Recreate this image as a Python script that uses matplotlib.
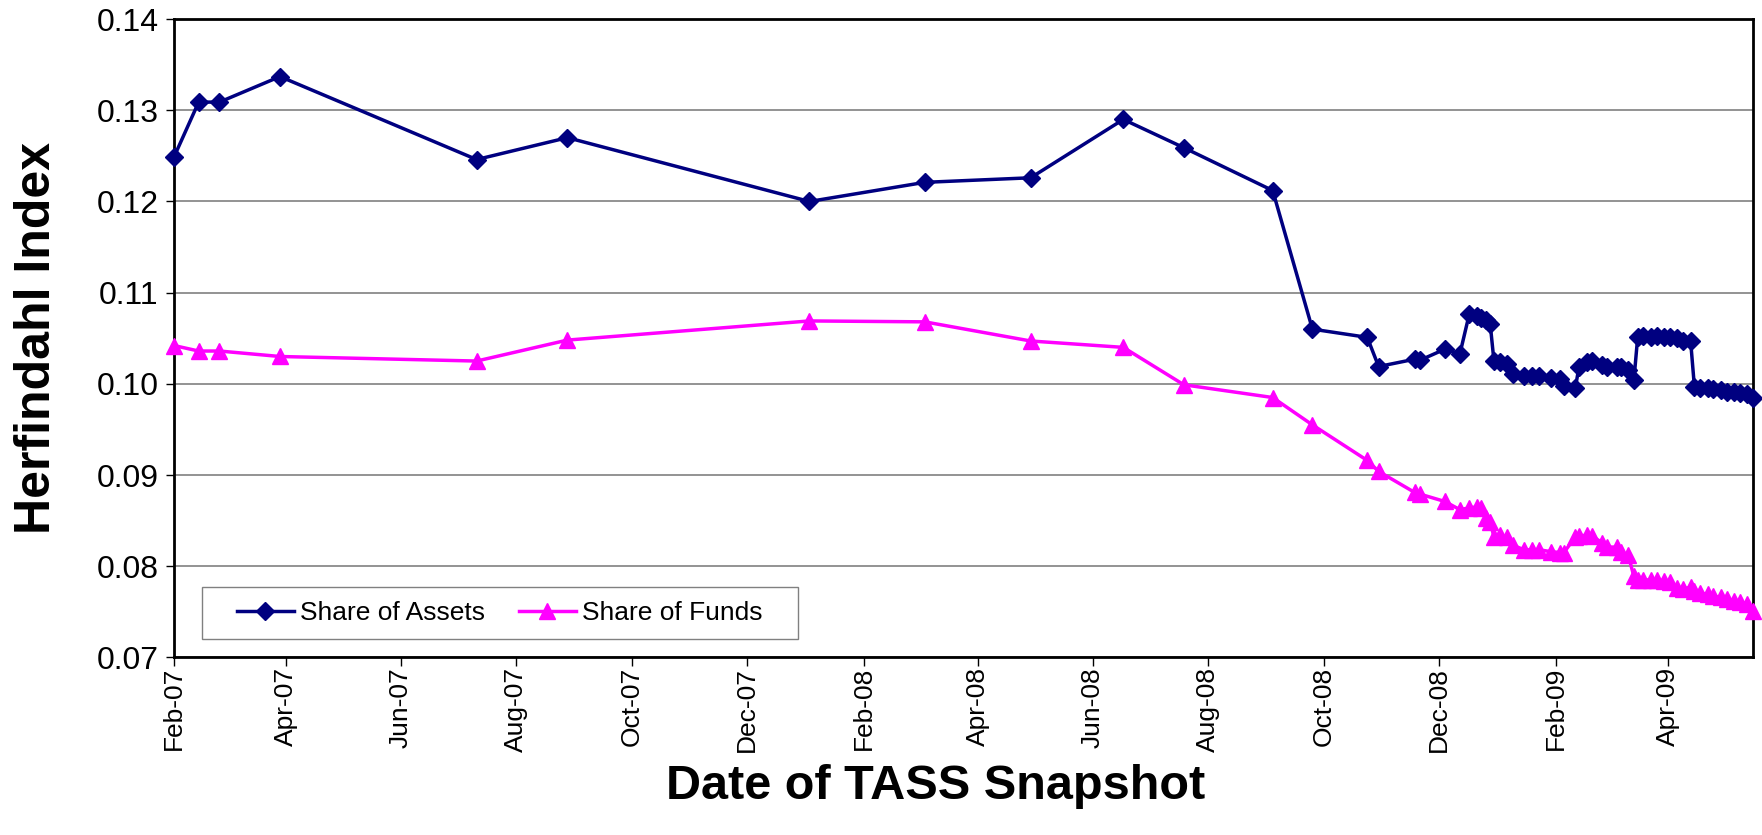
import pandas as pd
import matplotlib
matplotlib.use("Agg")
import matplotlib.pyplot as plt
import matplotlib.dates as mdates
from matplotlib.patches import Rectangle
from matplotlib.ticker import FormatStrFormatter, MultipleLocator

# =========================================================
# Data
# =========================================================

snapshot_dates = [
    "2007-02-01", "2007-02-14", "2007-02-25", "2007-03-29", "2007-07-11",
    "2007-08-28", "2008-01-03", "2008-03-04", "2008-04-29", "2008-06-17",
    "2008-07-19", "2008-09-04", "2008-09-25", "2008-10-24", "2008-10-30",
    "2008-11-18", "2008-11-21", "2008-12-04", "2008-12-12", "2008-12-17",
    "2008-12-21", "2008-12-23", "2008-12-26", "2008-12-28", "2008-12-30",
    "2009-01-02", "2009-01-06", "2009-01-09", "2009-01-15", "2009-01-19",
    "2009-01-23", "2009-01-29", "2009-02-03", "2009-02-05", "2009-02-11",
    "2009-02-13", "2009-02-17", "2009-02-20", "2009-02-25", "2009-02-28",
    "2009-03-05", "2009-03-07", "2009-03-11", "2009-03-14", "2009-03-16",
    "2009-03-19", "2009-03-23", "2009-03-26", "2009-03-30", "2009-04-02",
    "2009-04-06", "2009-04-09", "2009-04-13", "2009-04-15", "2009-04-18",
    "2009-04-22", "2009-04-25", "2009-04-29", "2009-05-02", "2009-05-06",
    "2009-05-09", "2009-05-13", "2009-05-16",
]

share_of_assets = [
    0.1249, 0.1309, 0.1309, 0.1337, 0.1246,
    0.1270, 0.1200, 0.1221, 0.1226, 0.1290,
    0.1259, 0.1212, 0.1060, 0.1051, 0.1019,
    0.1027, 0.1026, 0.1038, 0.1033, 0.1077,
    0.1074, 0.1072, 0.1070, 0.1066, 0.1025,
    0.1024, 0.1022, 0.1011, 0.1009, 0.1009,
    0.1009, 0.1006, 0.1005, 0.0998, 0.0995,
    0.1019, 0.1024, 0.1025, 0.1021, 0.1019,
    0.1019, 0.1019, 0.1015, 0.1004, 0.1051,
    0.1052, 0.1051, 0.1052, 0.1051, 0.1051,
    0.1050, 0.1047, 0.1047, 0.0997, 0.0995,
    0.0995, 0.0994, 0.0993, 0.0991, 0.0991,
    0.0990, 0.0989, 0.0985,
]

share_of_funds = [
    0.1042, 0.1036, 0.1036, 0.1030, 0.1025,
    0.1048, 0.1069, 0.1068, 0.1047, 0.1040,
    0.0999, 0.0985, 0.0955, 0.0916, 0.0904,
    0.0881, 0.0879, 0.0871, 0.0862, 0.0864,
    0.0865, 0.0864, 0.0853, 0.0849, 0.0832,
    0.0834, 0.0832, 0.0823, 0.0818, 0.0818,
    0.0818, 0.0816, 0.0815, 0.0815, 0.0832,
    0.0833, 0.0834, 0.0833, 0.0826, 0.0821,
    0.0821, 0.0816, 0.0812, 0.0789, 0.0785,
    0.0785, 0.0785, 0.0785, 0.0784, 0.0783,
    0.0776, 0.0775, 0.0777, 0.0773, 0.0771,
    0.0769, 0.0767, 0.0766, 0.0764, 0.0762,
    0.0761, 0.0759, 0.0751,
]

dates = pd.to_datetime(snapshot_dates)

# =========================================================
# Plot
# =========================================================

plt.rcParams["font.family"] = ["Liberation Sans", "DejaVu Sans"]

fig = plt.figure(figsize=(17.62, 8.35), dpi=100)
ax = fig.add_axes([0.0988, 0.2127, 0.8961, 0.7644])

ax.plot(dates, share_of_assets, color="#000080", marker="D", markersize=9,
        linewidth=2.5, label="Share of Assets", clip_on=False, zorder=3)
ax.plot(dates, share_of_funds, color="#FF00FF", marker="^", markersize=12,
        linewidth=2.5, label="Share of Funds", clip_on=False, zorder=3)

ax.set_ylim(0.07, 0.14)
ax.yaxis.set_major_locator(MultipleLocator(0.01))
ax.yaxis.set_major_formatter(FormatStrFormatter("%.2f"))

ax.set_xlim(dates.min(), dates.max())
ax.xaxis.set_major_locator(mdates.MonthLocator(bymonth=[2, 4, 6, 8, 10, 12]))
ax.xaxis.set_major_formatter(mdates.DateFormatter("%b-%y"))

ax.grid(axis="y", color="#808080", linewidth=1.2)
ax.set_axisbelow(True)
for spine in ax.spines.values():
    spine.set_linewidth(2)
    spine.set_color("black")

ax.tick_params(axis="y", direction="out", length=6, width=1, labelsize=23, pad=5)
ax.tick_params(axis="x", direction="out", length=6.5, width=1, labelsize=19,
               pad=0.5, labelrotation=90)

ax.set_xlabel("Date of TASS Snapshot", fontsize=35, fontweight="bold", va="center")
ax.xaxis.set_label_coords(0.482, -0.203)
ax.set_ylabel("Herfindahl Index", fontsize=36, fontweight="bold", va="center")
ax.yaxis.set_label_coords(-0.087, 0.5)

# legend box (Excel style: wide, square, grey border)
ax.add_patch(Rectangle((0.0175, 0.0288), 0.3774, 0.0815, transform=ax.transAxes,
                       facecolor="white", edgecolor="#808080", linewidth=1,
                       zorder=4))
leg = ax.legend(loc="center left", bbox_to_anchor=(0.0396, 0.0696),
                ncol=2, fontsize=19, frameon=False, borderaxespad=0,
                borderpad=0, handlelength=2.16, handletextpad=0.23,
                columnspacing=1.3)
leg.set_zorder(5)

fig.savefig("out.png", dpi=100)
print("Chart saved")
